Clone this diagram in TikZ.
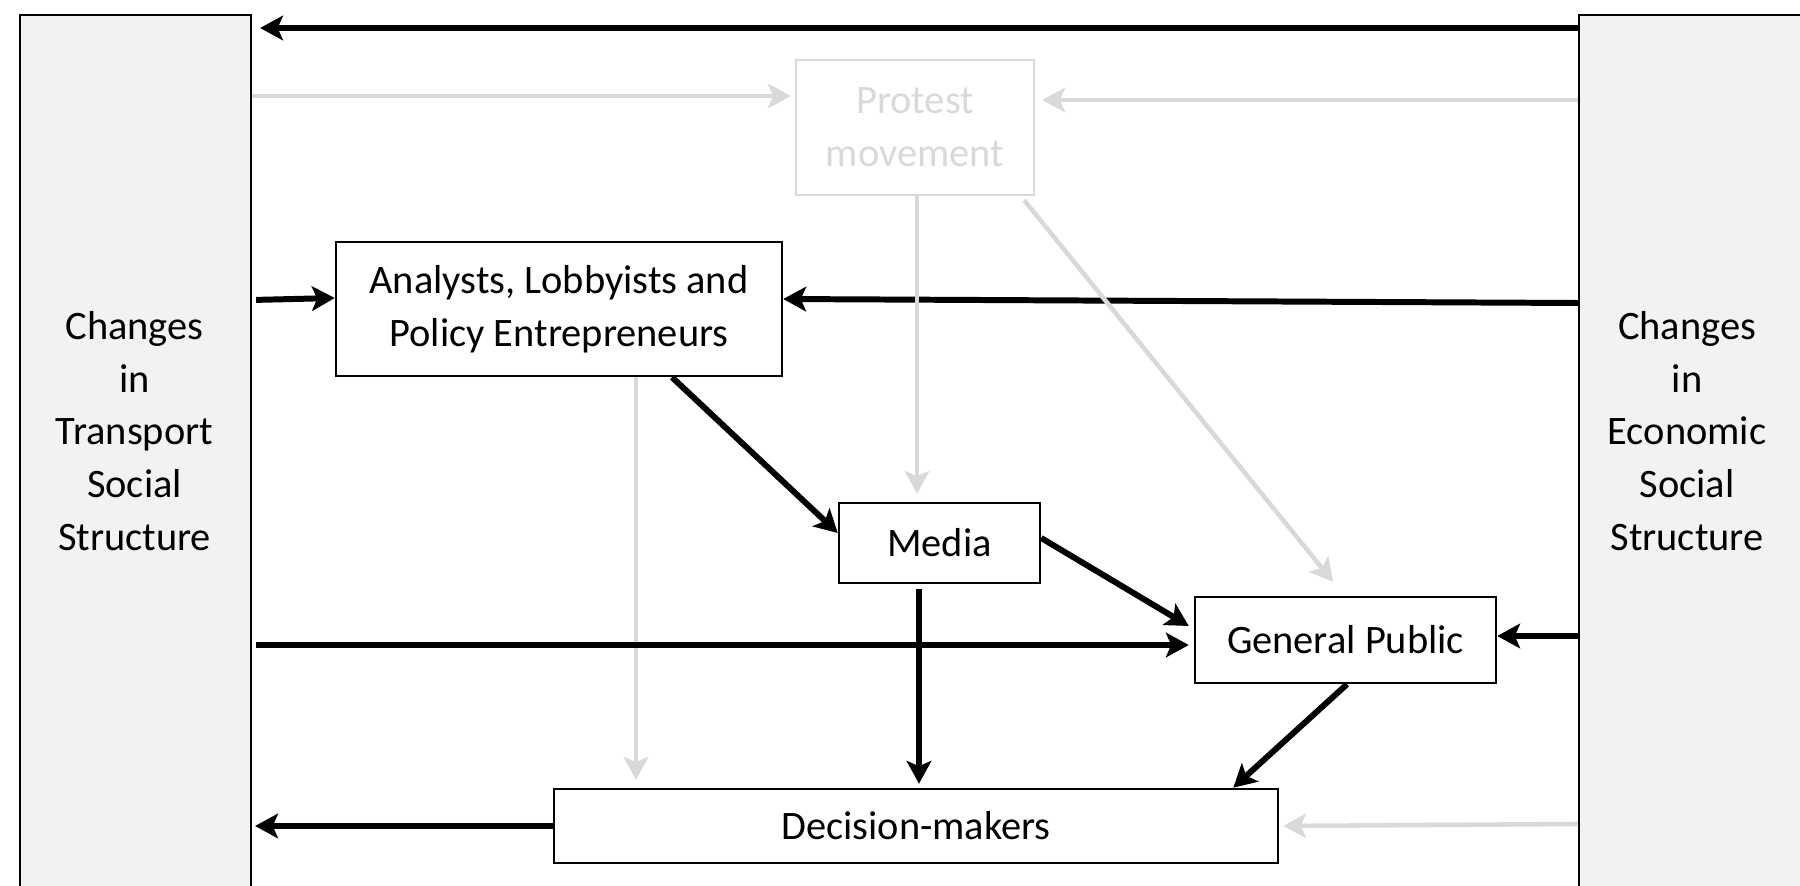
\documentclass[tikz,border=0pt]{standalone}
\usepackage{fontspec}
\setmainfont{Carlito}
\usetikzlibrary{arrows.meta}
\definecolor{faint}{RGB}{217,217,217}
\definecolor{panelgray}{RGB}{242,242,242}

\begin{document}
\begin{tikzpicture}[
		font=\fontsize{11.5}{15}\selectfont,
		panel/.style={draw, line width=0.6pt, fill=panelgray, minimum height=10cm, anchor=north west, inner sep=0pt},
		paneltxt/.style={align=center, inner sep=0pt},
		box/.style={draw, line width=0.7pt, fill=white, align=center, inner sep=0pt},
		blk/.style={line width=1.7pt, -{Stealth[length=6.5pt, width=7pt, inset=1.5pt]}},
		gry/.style={draw=faint, line width=1.3pt, -{Stealth[length=6.5pt, width=7pt, inset=1.5pt]}}
	]
		\clip (0, 0) rectangle (18, -8.86);
		
		% side panels
		\node[panel, minimum width=2.31cm] (trans) at (0.19, -0.14) {};
		\node[panel, minimum width=3cm] (eco) at (15.78, -0.14) {};
		\node[paneltxt] (transtxt) at (1.345, -4.31) {Changes\\in\\Transport\\Social\\Structure};
		\node[paneltxt] (ecotxt) at (16.87, -4.31) {Changes\\in\\Economic\\Social\\Structure};
		
		% boxes
		\node[box, draw=faint, text=faint, minimum width=2.38cm, minimum height=1.35cm] (prot) at (9.15, -1.275) {Protest\\movement};
		\node[box, minimum width=4.46cm, minimum height=1.34cm] (ana) at (5.59, -3.09) {Analysts, Lobbyists and\\Policy Entrepreneurs};
		\node[box, minimum width=2.01cm, minimum height=0.80cm] (media) at (9.395, -5.43) {Media};
		\node[box, minimum width=3.01cm, minimum height=0.86cm] (pub) at (13.455, -6.40) {General Public};
		\node[box, minimum width=7.24cm, minimum height=0.74cm] (dec) at (9.16, -8.26) {Decision-makers};
		
		% top row
		\draw[blk, shorten >=0.08cm] (eco.west |- 0,-0.28) -- (trans.east |- 0,-0.28);
		\draw[gry, shorten >=0.04cm] (trans.east |- 0,-0.96) -- (prot.west |- 0,-0.96);
		\draw[gry, shorten >=0.07cm] (eco.west |- 0,-1.00) -- (prot.east |- 0,-1.00);
		
		% analysts row
		\draw[blk, shorten <=0.04cm] (trans.east |- 0,-3.00) -- (ana.west |- 0,-2.98);
		\draw[blk] (eco.west |- 0,-3.03) -- (ana.east |- 0,-2.99);
		
		% protest movement
		\draw[gry, shorten >=0.08cm] (9.17,0 |- prot.south) -- (9.17,0 |- media.north);
		\draw[gry] ([xshift=-0.11cm, yshift=-0.04cm]prot.south east) -- ([xshift=-0.125cm, yshift=0.14cm]pub.north);
		
		% middle
		\draw[gry, line width=1.1pt, shorten >=0.08cm] (6.36,0 |- ana.south) -- (6.36,0 |- dec.north);
		\draw[blk] ([xshift=1.13cm]ana.south) -- ([yshift=0.1cm]media.west);
		\draw[blk] ([yshift=0.05cm]media.east) -- ([xshift=-0.05cm, yshift=0.14cm]pub.west);
		\draw[blk, shorten <=0.04cm, shorten >=0.05cm] (trans.east |- 0,-6.45) -- (pub.west |- 0,-6.45);
		\draw[blk, shorten <=0.05cm, shorten >=0.04cm] (9.19,0 |- media.south) -- (9.19,0 |- dec.north);
		\draw[blk] ([xshift=0.015cm]pub.south) -- ([xshift=-0.46cm]dec.north east);
		\draw[blk] (eco.west |- 0,-6.36) -- (pub.east |- 0,-6.36);
		
		% bottom row
		\draw[blk, shorten >=0.03cm] (dec.west) -- (trans.east |- dec.west);
		\draw[gry, shorten >=0.04cm] (eco.west |- 0,-8.24) -- (dec.east |- 0,-8.26);
	\end{tikzpicture}
\end{document}
